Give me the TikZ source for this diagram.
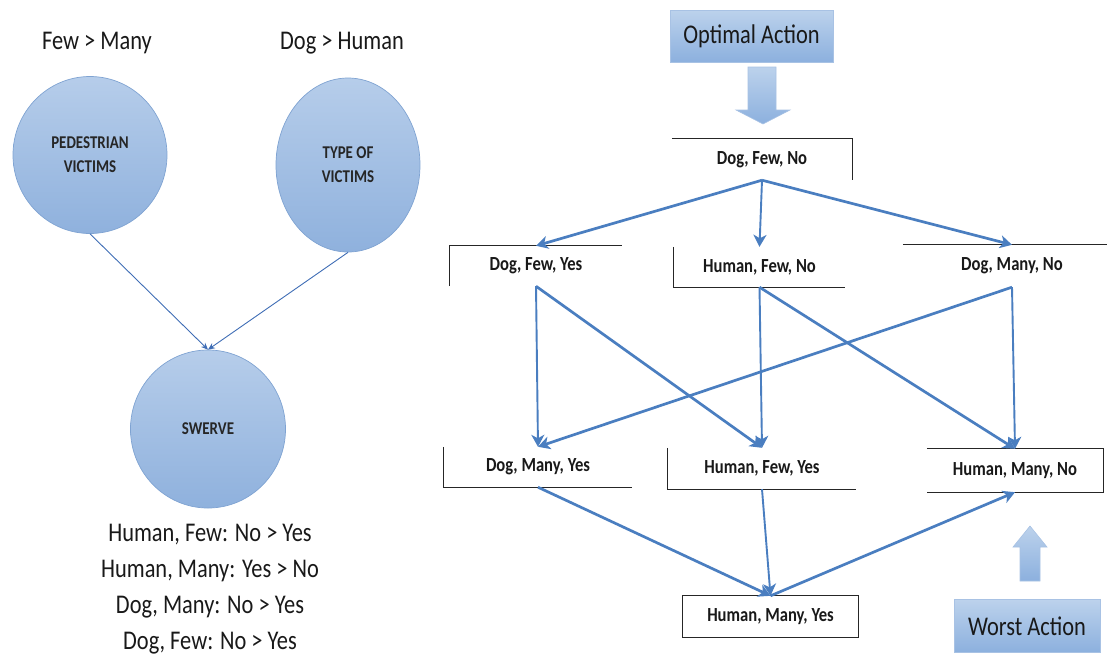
\documentclass[tikz,border=0pt]{standalone}
\usepackage{fontspec}
\setmainfont{Carlito}[FakeStretch=0.83]
\usetikzlibrary{arrows.meta,shapes.geometric}
\definecolor{edgeblue}{HTML}{4A7EC0}
\definecolor{thinblue}{HTML}{3F6DB5}
\definecolor{fillTop}{HTML}{B6CDEA}
\definecolor{fillBot}{HTML}{8FB1DD}
\definecolor{rimblue}{HTML}{7FA3D2}
\definecolor{boxTop}{HTML}{BCD2EC}
\definecolor{boxBot}{HTML}{8CB0DE}
\definecolor{boxRim}{HTML}{A8C2E4}

\begin{document}
\begin{tikzpicture}[x=1pt,y=-1pt,
  bigtxt/.style={font=\fontsize{27}{30}\selectfont, inner sep=0, text=black!90},
  topic/.style={ellipse, top color=fillTop, bottom color=fillBot, draw=rimblue,
    line width=0.7pt, font=\bfseries\fontsize{18}{24}\selectfont, align=center,
    inner sep=0, text=black!85},
  state/.style={rectangle, inner sep=0, font=\bfseries\fontsize{20}{22}\selectfont, text=black!90},
  rim/.style={line width=1.3pt, draw=black!85},
  link/.style={draw=edgeblue, line width=2.7pt, -{Stealth[length=12pt,width=13pt,inset=3.5pt]}},
  vlink/.style={link, line width=1.9pt},
  thinlink/.style={draw=thinblue, line width=0.9pt, -{Stealth[length=7pt,width=6pt]}},
  actionbox/.style={rectangle, top color=boxTop, bottom color=boxBot, draw=boxRim,
    line width=0.8pt, inner sep=0, font=\fontsize{27}{30}\selectfont, text=black!90},
  blockarrow/.style={top color=boxTop, bottom color=boxBot, draw=boxRim, line width=0.6pt},
]
\useasboundingbox (0,0) rectangle (1107,657);
\coordinate (edge) at (1107,0);

% ---- left part: factors and the swerve decision ----
\node[bigtxt] (fm) at (97,43) {Few > Many};
\node[bigtxt] (dh) at (342,43) {Dog > Human};

\node[topic, minimum width=154, minimum height=157] (ped) at (90,155) {PEDESTRIAN\\VICTIMS};
\node[topic, minimum width=144, minimum height=174] (typ) at (348,165) {TYPE OF\\VICTIMS};
\node[topic, minimum width=155, minimum height=158] (swv) at (208,429) {SWERVE};

\draw[thinlink] (ped.south) -- (swv.north);
\draw[thinlink] (typ.south) -- (swv.north);

\node[bigtxt] (r1) at (210,535) {Human, Few: No > Yes};
\node[bigtxt] (r2) at (210,571) {Human, Many: Yes > No};
\node[bigtxt] (r3) at (210,607) {Dog, Many: No > Yes};
\node[bigtxt] (r4) at (210,643) {Dog, Few: No > Yes};

% ---- right part: ordering of outcomes ----
\node[actionbox, minimum width=163, minimum height=52] (opt) at (751.5,36) {Optimal Action};
\node[actionbox, minimum width=146, minimum height=53] (wst) at (1027,626) {Worst Action};

\path[blockarrow] (748,67) -- (776,67) -- (776,110) -- (790,110) -- (763,124)
  -- (736,110) -- (748,110) -- cycle;
\path[blockarrow] (1030,526) -- (1047,547) -- (1040,547) -- (1040,581)
  -- (1020,581) -- (1020,547) -- (1013,547) -- cycle;

\node[state, minimum width=180, minimum height=41] (dfn) at (762,159.5) {Dog, Few, No};
\node[state, minimum width=172, minimum height=40] (dfy) at (536,266) {Dog, Few, Yes};
\node[state, minimum width=171, minimum height=40] (hfn) at (759.5,267) {Human, Few, No};
\node[state, minimum width=218, minimum height=42] (dmn) at (1012,266) {Dog, Many, No};
\node[state, minimum width=188, minimum height=40] (dmy) at (538,467) {Dog, Many, Yes};
\node[state, minimum width=188, minimum height=41] (hfy) at (762,468.5) {Human, Few, Yes};
\node[state, minimum width=176, minimum height=43] (hmn) at (1015,470.5) {Human, Many, No};
\node[state, minimum width=175, minimum height=41] (hmy) at (770.5,616.5) {Human, Many, Yes};

% open borders of the outcome boxes
\draw[rim] (dfn.north west) -- (dfn.north east) -- (dfn.south east);
\draw[rim] (dfy.south west) -- (dfy.north west) -- (dfy.north east);
\draw[rim] (hfn.north west) -- (hfn.south west) -- (hfn.south east);
\draw[rim] (dmn.north west) -- (dmn.north west -| edge);
\draw[rim] (dmy.north west) -- (dmy.south west) -- (dmy.south east);
\draw[rim] (hfy.north west) -- (hfy.south west) -- (hfy.south east);
\draw[rim] (hmn.north west) -- (hmn.north east) -- (hmn.south east) -- (hmn.south west);
\draw[rim] (hmy.north west) rectangle (hmy.south east);

% preference arrows
\draw[link]  (dfn.south) -- (dfy.north);
\draw[vlink] (dfn.south) -- (hfn.north);
\draw[link]  (dfn.south) -- (dmn.north);
\draw[vlink] (dfy.south) -- (dmy.north);
\draw[link]  (dfy.south) -- (hfy.north);
\draw[vlink] (hfn.south) -- (hfy.north);
\draw[link]  (hfn.south) -- (hmn.north);
\draw[link]  (dmn.south) -- (dmy.north);
\draw[vlink] (dmn.south) -- (hmn.north);
\draw[link]  (dmy.south) -- (hmy.north);
\draw[vlink] (hfy.south) -- (hmy.north);
\draw[link]  (hmy.north) -- (hmn.south);
\end{tikzpicture}
\end{document}
